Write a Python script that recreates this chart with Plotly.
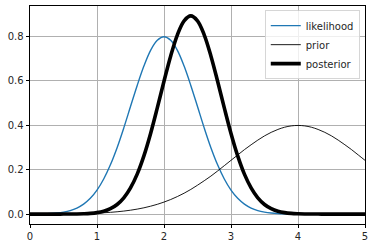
import plotly.graph_objects as go

# x positions (step 0.1 from 0 to 5)
x_vals = [round(i * 0.1, 1) for i in range(51)]

likelihood = [0.0003, 0.0006, 0.0012, 0.0025, 0.0048, 0.0089, 0.0158, 0.0272, 0.0448, 0.0709,
              0.108, 0.158, 0.222, 0.299, 0.388, 0.484, 0.579, 0.666, 0.737, 0.782,
              0.798, 0.782, 0.737, 0.666, 0.579, 0.484, 0.388, 0.299, 0.222, 0.158,
              0.108, 0.0709, 0.0448, 0.0272, 0.0158, 0.0089, 0.0048, 0.0025, 0.0012, 0.0006,
              0.0003, 0.0001, 0.0, 0.0, 0.0, 0.0, 0.0, 0.0, 0.0, 0.0, 0.0]

prior = [0.0001, 0.0002, 0.0003, 0.0004, 0.0006, 0.0009, 0.0012, 0.0017, 0.0024, 0.0033,
         0.0044, 0.0060, 0.0079, 0.0104, 0.0136, 0.0175, 0.0224, 0.0283, 0.0355, 0.0440,
         0.0540, 0.0656, 0.0790, 0.0940, 0.111, 0.130, 0.150, 0.171, 0.194, 0.218,
         0.242, 0.266, 0.290, 0.312, 0.333, 0.352, 0.368, 0.381, 0.391, 0.397,
         0.399, 0.397, 0.391, 0.381, 0.368, 0.352, 0.333, 0.312, 0.290, 0.266, 0.242]

posterior = [0.0, 0.0, 0.0, 0.0, 0.0, 0.0001, 0.0003, 0.0006, 0.0015, 0.0032,
             0.0066, 0.0130, 0.0244, 0.0433, 0.0732, 0.118, 0.180, 0.262, 0.363, 0.478,
             0.598, 0.712, 0.807, 0.870, 0.892, 0.870, 0.807, 0.712, 0.598, 0.478,
             0.363, 0.262, 0.180, 0.118, 0.0732, 0.0433, 0.0244, 0.0130, 0.0066, 0.0032,
             0.0015, 0.0006, 0.0003, 0.0001, 0.0, 0.0, 0.0, 0.0, 0.0, 0.0, 0.0]

x_ticks = [0, 1, 2, 3, 4, 5]
y_ticks = [0.0, 0.2, 0.4, 0.6, 0.8]

fig = go.Figure()
fig.add_trace(go.Scatter(x=x_vals, y=likelihood, mode="lines", name="likelihood",
                         line=dict(color="#1f77b4", width=1.4, shape="spline")))
fig.add_trace(go.Scatter(x=x_vals, y=prior, mode="lines", name="prior",
                         line=dict(color="black", width=0.9, shape="spline")))
fig.add_trace(go.Scatter(x=x_vals, y=posterior, mode="lines", name="posterior",
                         line=dict(color="black", width=3.6, shape="spline")))

axis_common = dict(showline=True, linecolor="black", linewidth=0.8, mirror=True,
                   ticks="outside", ticklen=3.5, tickwidth=0.8, tickcolor="black",
                   showgrid=True, gridcolor="#b0b0b0", gridwidth=0.8, zeroline=False,
                   tickfont=dict(family="DejaVu Sans", size=10, color="#262626"))

fig.update_layout(
    width=375, height=248,
    margin=dict(l=30, r=10, t=6, b=24),
    paper_bgcolor="white", plot_bgcolor="white",
    showlegend=True,
    legend=dict(x=0.985, y=0.98, xanchor="right", yanchor="top",
                bgcolor="rgba(255,255,255,0.8)", bordercolor="#cccccc", borderwidth=0.8,
                font=dict(family="DejaVu Sans", size=10, color="#262626"),
                tracegroupgap=0, itemwidth=30),
    xaxis=dict(range=[0, 5], tickvals=x_ticks, ticktext=[str(v) for v in x_ticks], **axis_common),
    yaxis=dict(range=[-0.0446, 0.9366], tickvals=y_ticks, ticktext=[f"{v:.1f}" for v in y_ticks], **axis_common),
)

fig.write_html("out.html")
